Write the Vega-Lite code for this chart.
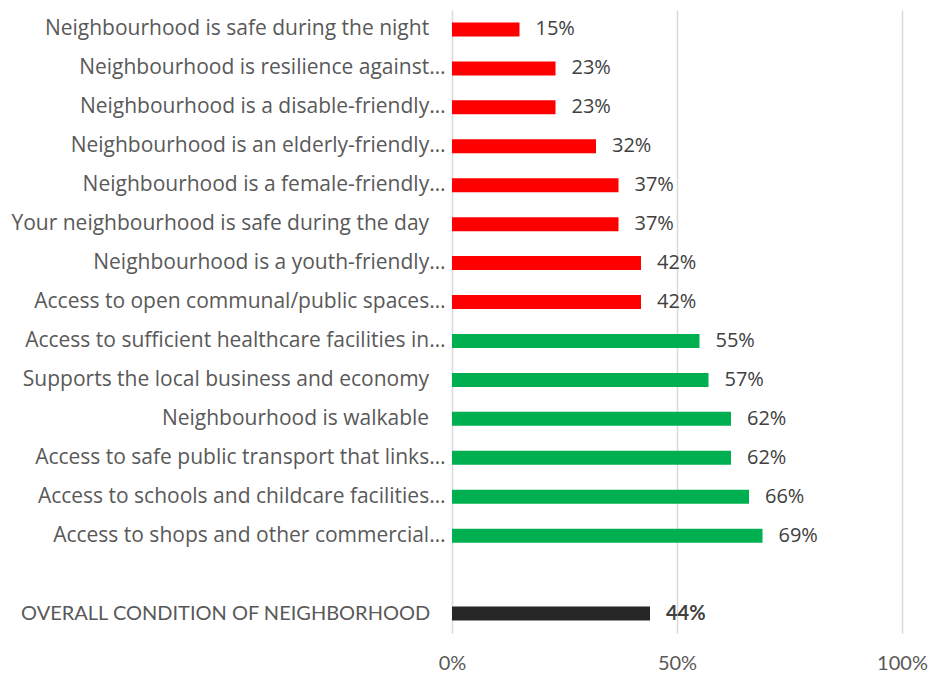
{
  "$schema": "https://vega.github.io/schema/vega-lite/v6.json",
  "autosize": "none",
  "padding": {"left": 452, "top": 10, "right": 33, "bottom": 42},
  "width": 450,
  "height": 623,
  "background": "white",
  "config": {"view": {"stroke": null}, "font": "Open Sans"},
  "data": {"values": [
    {"item": "Neighbourhood is safe during the night\u00a0\u00a0\u00a0\u2060", "value": 0.15, "group": "low"},
    {"item": "Neighbourhood is resilience against…", "value": 0.23, "group": "low"},
    {"item": "Neighbourhood is a disable-friendly…", "value": 0.23, "group": "low"},
    {"item": "Neighbourhood is an elderly-friendly…", "value": 0.32, "group": "low"},
    {"item": "Neighbourhood is a female-friendly…", "value": 0.37, "group": "low"},
    {"item": "Your neighbourhood is safe during the day\u00a0\u00a0\u00a0\u2060", "value": 0.37, "group": "low"},
    {"item": "Neighbourhood is a youth-friendly…", "value": 0.42, "group": "low"},
    {"item": "Access to open communal/public spaces…", "value": 0.42, "group": "low"},
    {"item": "Access to sufficient healthcare facilities in…", "value": 0.55, "group": "high"},
    {"item": "Supports the local business and economy\u00a0\u00a0\u00a0\u2060", "value": 0.57, "group": "high"},
    {"item": "Neighbourhood is walkable\u00a0\u00a0\u00a0\u2060", "value": 0.62, "group": "high"},
    {"item": "Access to safe public transport that links…", "value": 0.62, "group": "high"},
    {"item": "Access to schools and childcare facilities…", "value": 0.66, "group": "high"},
    {"item": "Access to shops and other commercial…", "value": 0.69, "group": "high"},
    {"item": "OVERALL CONDITION OF NEIGHBORHOOD\u00a0\u00a0\u00a0\u2060", "value": 0.44, "group": "overall"}
  ]},
  "encoding": {
    "y": {
      "field": "item", "type": "nominal", "title": null,
      "scale": {
        "domain": [
          "Neighbourhood is safe during the night\u00a0\u00a0\u00a0\u2060",
          "Neighbourhood is resilience against…",
          "Neighbourhood is a disable-friendly…",
          "Neighbourhood is an elderly-friendly…",
          "Neighbourhood is a female-friendly…",
          "Your neighbourhood is safe during the day\u00a0\u00a0\u00a0\u2060",
          "Neighbourhood is a youth-friendly…",
          "Access to open communal/public spaces…",
          "Access to sufficient healthcare facilities in…",
          "Supports the local business and economy\u00a0\u00a0\u00a0\u2060",
          "Neighbourhood is walkable\u00a0\u00a0\u00a0\u2060",
          "Access to safe public transport that links…",
          "Access to schools and childcare facilities…",
          "Access to shops and other commercial…",
          "\u00a0",
          "OVERALL CONDITION OF NEIGHBORHOOD\u00a0\u00a0\u00a0\u2060"
        ],
        "paddingInner": 0.64, "paddingOuter": 0.32
      },
      "axis": {
        "domain": false, "ticks": false, "labelPadding": 7, "labelLimit": 460,
        "labelFontSize": {"condition": {"test": "indexof(datum.value, 'OVERALL') == 0", "value": 20}, "value": 21},
        "labelColor": "#595959",
        "labelFont": {"condition": {"test": "indexof(datum.value, 'OVERALL') == 0", "value": "Lato"}, "value": "Open Sans"}
      }
    },
    "x": {
      "field": "value", "type": "quantitative", "title": null,
      "scale": {"domain": [0, 1], "nice": false},
      "axis": {
        "values": [0, 0.5, 1], "format": ".0%", "domain": false, "ticks": false,
        "labelPadding": 20, "labelFontSize": 20, "labelColor": "#595959", "labelFont": "Lato",
        "grid": true, "gridColor": "#d9d9d9", "gridWidth": 1.5, "labelFlush": false
      }
    }
  },
  "layer": [
    {
      "mark": {"type": "bar"},
      "encoding": {
        "color": {
          "field": "group", "type": "nominal", "legend": null,
          "scale": {"domain": ["low", "high", "overall"], "range": ["#ff0000", "#00b050", "#262626"]}
        }
      }
    },
    {
      "transform": [{"filter": "datum.group != 'overall'"}],
      "mark": {"type": "text", "align": "left", "baseline": "middle", "dx": 16, "fontSize": 20, "color": "#404040", "font": "Open Sans"},
      "encoding": {
        "text": {"field": "value", "type": "quantitative", "format": ".0%"}
      }
    },
    {
      "transform": [{"filter": "datum.group == 'overall'"}],
      "mark": {"type": "text", "align": "left", "baseline": "middle", "dx": 16, "fontSize": 20, "color": "#404040", "font": "Lato", "fontWeight": "bold"},
      "encoding": {
        "text": {"field": "value", "type": "quantitative", "format": ".0%"}
      }
    }
  ]
}
